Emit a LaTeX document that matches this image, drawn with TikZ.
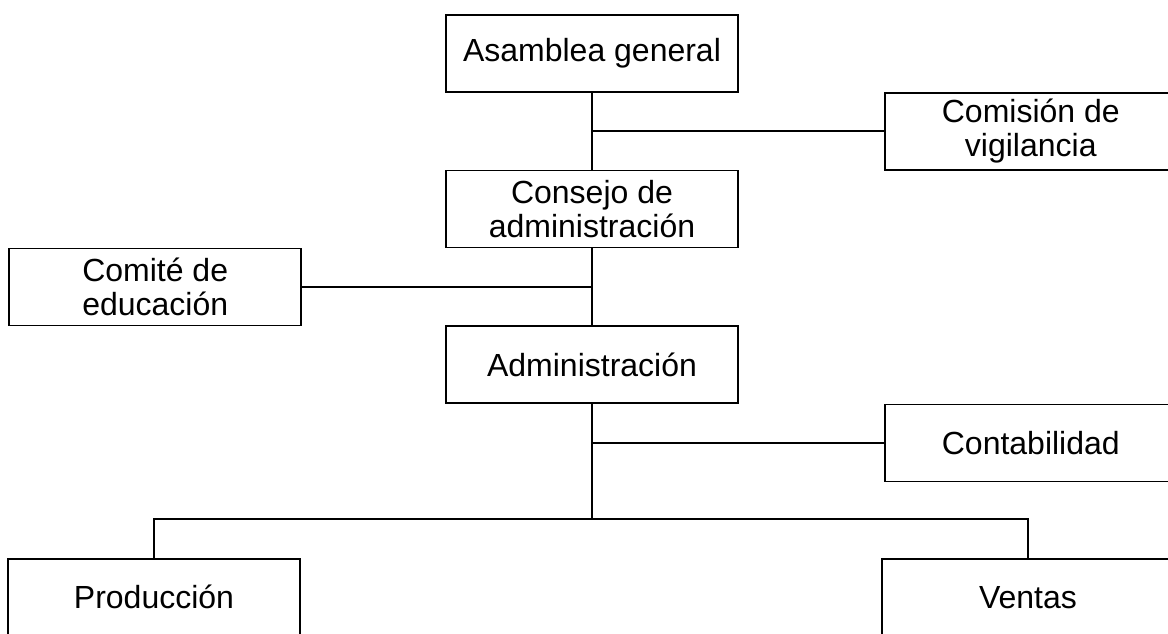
\documentclass[tikz,border=0pt]{standalone}
\usepackage{fontspec}
\setmainfont{Liberation Sans}
\usetikzlibrary{positioning,calc}
\tikzset{
	node distance=38.5pt
}

\begin{document}
\begin{tikzpicture}[x=0.5pt,y=-0.5pt,line width=0.9pt,
	box/.style={draw,rectangle,line width=0.8pt,minimum width=146pt,minimum height=38.5pt,inner sep=0pt,align=center,font=\fontsize{16}{17}\selectfont}]
	\useasboundingbox (0,0) rectangle (1168,633);
	\clip (0,0) rectangle (1168,633);
	\node[box] (ag) at (592,53.5) {Asamblea general};
	\node[box] (ca) [below=of ag] {Consejo de\\administración};
	\node[box] (ad) [below=of ca] {Administración};
	\coordinate (j1) at ($(ag.south)!.5!(ca.north)$);
	\coordinate (j2) at ($(ca.south)!.5!(ad.north)$);
	\coordinate[below=19.5pt of ad] (j3);
	\coordinate[below=57.5pt of ad] (j4);
	\coordinate[left=219pt of j4] (j5);
	\coordinate[right=218pt of j4] (j6);
	\node[box] (cv) [right=146pt of j1] {Comisión de\\vigilancia};
	\node[box] (ce) [left=145pt of j2] {Comité de\\educación};
	\node[box] (co) [right=146pt of j3] {Contabilidad};
	\node[box] (pr) [below=19.5pt of j5] {Producción};
	\node[box] (ve) [below=19.5pt of j6] {Ventas};
	\draw (ag) -- (ca);
	\draw (j1) -- (cv);
	\draw (ca) -- (ad);
	\draw (j2) -- (ce);
	\draw (ad) -- (j4);
	\draw (j3) -- (co);
	\draw (pr) |- (j4) -| (ve);
\end{tikzpicture}
\end{document}
